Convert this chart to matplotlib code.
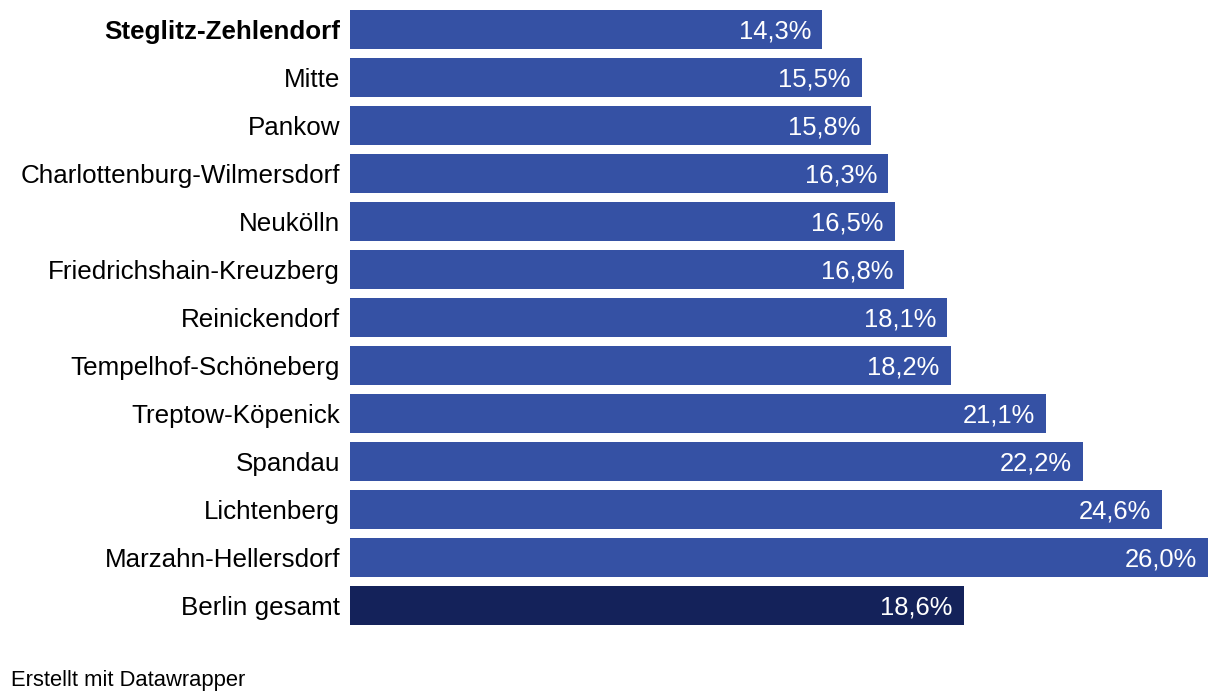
import matplotlib.pyplot as plt
from matplotlib.transforms import offset_copy

plt.rcParams["font.family"] = ["Liberation Sans", "DejaVu Sans"]

districts = [
    "Steglitz-Zehlendorf",
    "Mitte",
    "Pankow",
    "Charlottenburg-Wilmersdorf",
    "Neukölln",
    "Friedrichshain-Kreuzberg",
    "Reinickendorf",
    "Tempelhof-Schöneberg",
    "Treptow-Köpenick",
    "Spandau",
    "Lichtenberg",
    "Marzahn-Hellersdorf",
    "Berlin gesamt",
]
values = [14.3, 15.5, 15.8, 16.3, 16.5, 16.8, 18.1, 18.2, 21.1, 22.2, 24.6, 26.0, 18.6]
highlight = "Steglitz-Zehlendorf"
total_label = "Berlin gesamt"

BAR_COLOR = "#3551a4"
TOTAL_COLOR = "#14225a"

W, H = 1220, 700
fig = plt.figure(figsize=(W / 100, H / 100), dpi=100)
left, right = 350 / W, 1208 / W
top, bottom = 1 - 5.5 / H, 1 - 629.5 / H
ax = fig.add_axes([left, bottom, right - left, top - bottom])

ypos = list(range(len(districts)))
colors = [TOTAL_COLOR if d == total_label else BAR_COLOR for d in districts]
ax.barh(ypos, values, height=39 / 48, color=colors, edgecolor="none")

ax.set_xlim(0, max(values))
ax.set_ylim(len(districts) - 0.5, -0.5)
ax.axis("off")

lab_trans = offset_copy(ax.transData, fig=fig, x=-10, y=0, units="dots")
val_trans = offset_copy(ax.transData, fig=fig, x=-11, y=0, units="dots")
for y, name, v in zip(ypos, districts, values):
    ax.text(0, y, name, transform=lab_trans, ha="right", va="center_baseline",
            fontsize=18.7, color="#000000",
            fontweight="bold" if name == highlight else "normal")
    ax.text(v, y, ("%.1f%%" % v).replace(".", ","), transform=val_trans,
            ha="right", va="center_baseline", fontsize=18.4, color="white")

fig.text(11 / W, 1 - 678 / H, "Erstellt mit Datawrapper", ha="left",
         va="center_baseline", fontsize=15.8, color="#000000")

fig.savefig("out.png", dpi=100, facecolor="white")
